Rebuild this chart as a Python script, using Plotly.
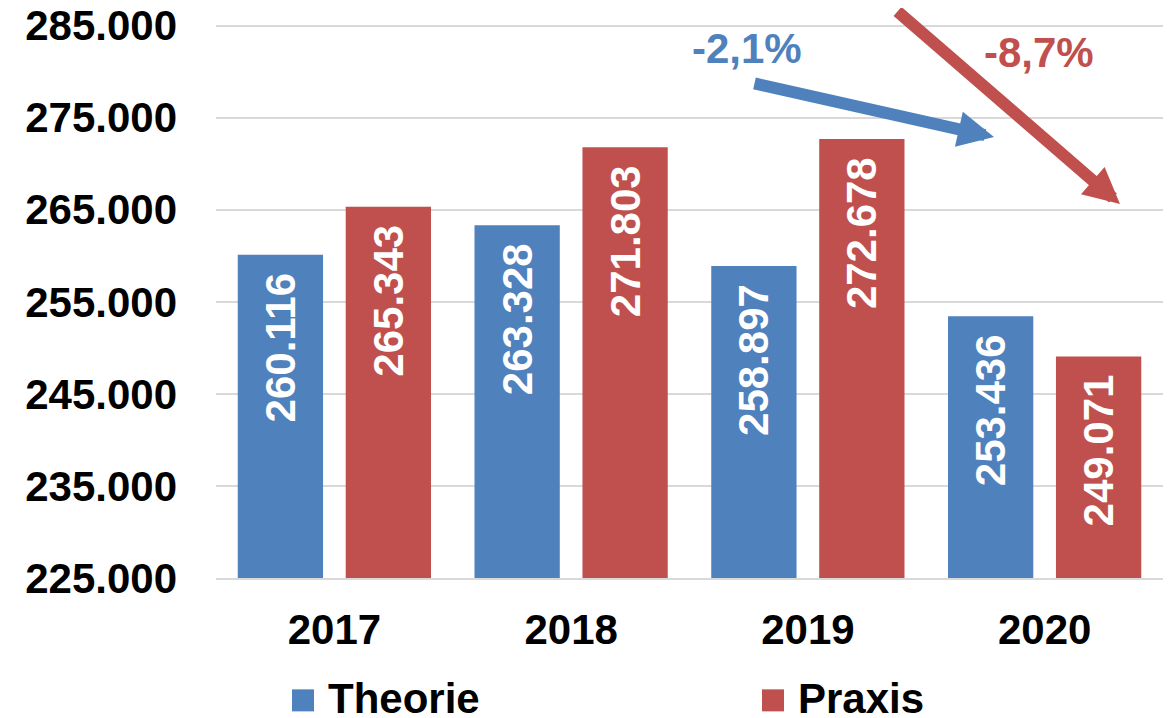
import plotly.graph_objects as go

years = ["2017", "2018", "2019", "2020"]
theorie = [260116, 263328, 258897, 253436]
praxis = [265343, 271803, 272678, 249071]
series_names = ["Theorie", "Praxis"]
change_labels = ["-2,1%", "-8,7%"]

BLUE = "#4F81BD"
RED = "#C0504D"
FONT = "Liberation Sans, Arial, sans-serif"
PAD = "\u2008\u200a"

# page offset of the plotly div (default body margin)
OFF = 8
PL, PR, PT, PB = 216, 1163, 8, 577.7  # plot area in window pixels
PW, PH = PR - PL, PB - PT


def px(x):
    return (x - PL) / PW


def py(y):
    return (PB - y) / PH


fig = go.Figure()
for name, vals, col in [(series_names[0], theorie, BLUE), (series_names[1], praxis, RED)]:
    fig.add_trace(go.Bar(
        x=years, y=vals, name=name, marker=dict(color=col, line=dict(width=0)),
        texttemplate="%{y:,.0f}" + PAD, textposition="inside", insidetextanchor="end",
        textangle=-90, constraintext="none",
        textfont=dict(family=FONT, size=42, color="white", weight="bold"),
        showlegend=False,
    ))

fig.update_layout(
    width=1173 - OFF, height=718 - OFF,
    margin=dict(l=PL - OFF, r=1173 - PR, t=0, b=718 - PB, autoexpand=False),
    paper_bgcolor="white", plot_bgcolor="white",
    separators=",.",
    barmode="group", bargap=0.088, bargroupgap=0.21,
    font=dict(family=FONT, size=42, color="black", weight="bold"),
    xaxis=dict(showgrid=False, showline=True, linecolor="#D9D9D9", linewidth=2,
               ticks="", ticklabelstandoff=14, automargin=False,
               tickfont=dict(family=FONT, size=42, color="black", weight="bold")),
    yaxis=dict(range=[225000, 286920], tick0=225000, dtick=10000, tickformat=",.0f",
               showgrid=True, gridcolor="#D9D9D9", gridwidth=2, zeroline=False,
               showline=False, ticks="", ticklabelstandoff=38, ticklabeloverflow="allow",
               automargin=False,
               tickfont=dict(family=FONT, size=42, color="black", weight="bold")),
    showlegend=False,
)

# change labels and arrows
fig.add_annotation(xref="paper", yref="paper", x=px(747), y=py(48),
                   xanchor="center", yanchor="middle",
                   text=change_labels[0], showarrow=False,
                   font=dict(family=FONT, size=42, color=BLUE, weight="bold"))
fig.add_annotation(xref="paper", yref="paper", x=px(1039), y=py(52),
                   xanchor="center", yanchor="middle",
                   text=change_labels[1], showarrow=False,
                   font=dict(family=FONT, size=42, color=RED, weight="bold"))
fig.add_annotation(xref="paper", yref="paper", x=px(994), y=py(137),
                   text="", showarrow=True, arrowhead=2, arrowsize=0.6, arrowwidth=12,
                   arrowcolor=BLUE, ax=-241, ay=-54, standoff=0)
fig.add_annotation(xref="paper", yref="paper", x=px(1120), y=py(204),
                   text="", showarrow=True, arrowhead=2, arrowsize=0.6, arrowwidth=12,
                   arrowcolor=RED, ax=-224, ay=-194, standoff=0)

# legend (manual, large squares)
for name, col, sx in [(series_names[0], BLUE, 292), (series_names[1], RED, 762)]:
    fig.add_shape(type="rect", xref="paper", yref="paper",
                  x0=px(sx), x1=px(sx + 22), y0=py(689), y1=py(711),
                  fillcolor=col, line=dict(width=0))
    fig.add_annotation(xref="paper", yref="paper", x=px(sx + 34),
                       y=py(698), xanchor="left", yanchor="middle",
                       text=name, showarrow=False,
                       font=dict(family=FONT, size=42, color="black", weight="bold"))

fig.write_html("out.html")
